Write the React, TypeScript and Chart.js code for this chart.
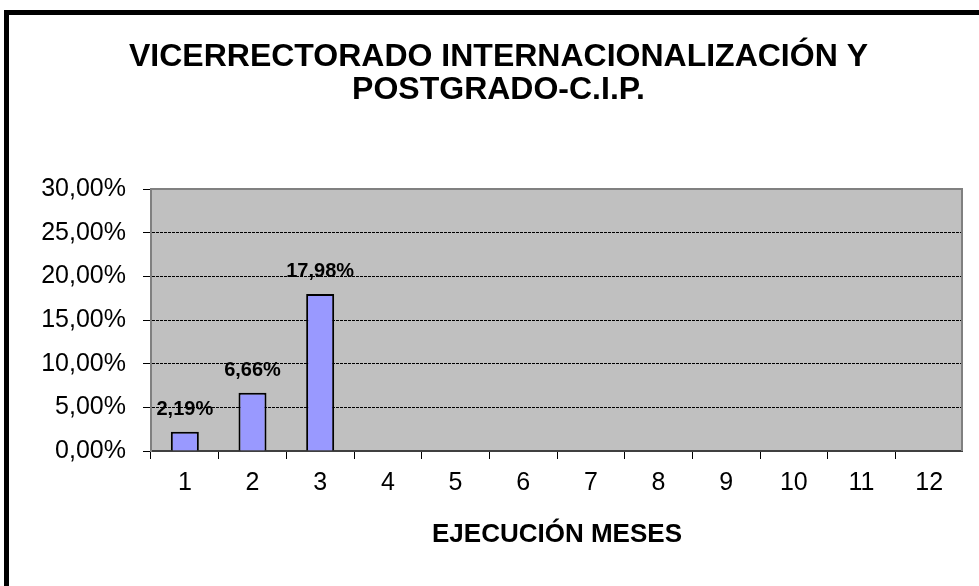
import React, { useEffect, useRef } from "react";
import { Chart, registerables } from "chart.js";

Chart.register(...registerables);

const months = ["1", "2", "3", "4", "5", "6", "7", "8", "9", "10", "11", "12"];
const execution: (number | null)[] = [2.19, 6.66, 17.98, null, null, null, null, null, null, null, null, null];
const yMin = 0;
const yMax = 30;
const yStep = 5;
const titleLines = ["VICERRECTORADO INTERNACIONALIZACIÓN Y", "POSTGRADO-C.I.P."];
const xAxisTitle = "EJECUCIÓN MESES";

const FONT = "'Liberation Sans', Arial, sans-serif";
const fmt = (v: number) => v.toFixed(2).replace(".", ",") + "%";

const area = (chart: any) => {
  const xs = chart.scales.x;
  const ys = chart.scales.y;
  return { left: xs.left, right: xs.right, top: ys.top, bottom: ys.bottom };
};

const plotFrame = {
  id: "plotFrame",
  beforeDatasetsDraw(chart: any) {
    const { ctx } = chart;
    const a = area(chart);
    ctx.save();
    ctx.globalCompositeOperation = "destination-over";
    ctx.fillStyle = "#C0C0C0";
    ctx.fillRect(a.left, a.top, a.right - a.left, a.bottom - a.top);
    ctx.restore();
  },
  afterDatasetsDraw(chart: any) {
    const { ctx } = chart;
    const a = area(chart);
    ctx.save();
    ctx.strokeStyle = "#808080";
    ctx.lineWidth = 2;
    ctx.beginPath();
    ctx.moveTo(a.left, a.top);
    ctx.lineTo(a.right - 1, a.top);
    ctx.lineTo(a.right - 1, a.bottom);
    ctx.stroke();
    const meta = chart.getDatasetMeta(0);
    ctx.fillStyle = "#000";
    ctx.font = `bold 20px ${FONT}`;
    ctx.textAlign = "center";
    ctx.textBaseline = "middle";
    meta.data.forEach((el: any, i: number) => {
      const v = execution[i];
      if (v == null) return;
      ctx.fillText(fmt(v), el.x, el.y - 22);
    });
    ctx.restore();
  },
};

export default function App() {
  const ref = useRef<HTMLCanvasElement | null>(null);

  useEffect(() => {
    if (!ref.current) return;
    const chart = new Chart(ref.current, {
      type: "bar",
      data: {
        labels: months,
        datasets: [
          {
            data: execution as any,
            backgroundColor: "#9999FF",
            borderColor: "#000000",
            borderWidth: 2,
            categoryPercentage: 1,
            barPercentage: 0.414,
          },
        ],
      },
      options: {
        responsive: false,
        maintainAspectRatio: false,
        devicePixelRatio: 1,
        animation: false,
        layout: { padding: { left: 34, right: 0, top: 0, bottom: 0 } },
        plugins: {
          legend: { display: false },
          tooltip: { enabled: false },
          title: {
            display: true,
            text: titleLines,
            color: "#000",
            font: { family: FONT, size: 32, weight: "bold", lineHeight: 33 / 32 },
            padding: { top: 41, bottom: 82 },
          },
        },
        scales: {
          x: {
            offset: true,
            afterFit: (s: any) => {
              s.height = 135;
            },
            grid: {
              offset: true,
              drawOnChartArea: false,
              drawTicks: true,
              tickLength: 8,
              tickColor: "#000",
              tickWidth: 1,
            },
            border: { display: true, color: "#404040", width: 2 },
            ticks: {
              color: "#000",
              font: { family: FONT, size: 25 },
              padding: 9,
              maxRotation: 0,
              autoSkip: false,
            },
            title: {
              display: true,
              text: xAxisTitle,
              color: "#000",
              font: { family: FONT, size: 26, weight: "bold", lineHeight: 1.2 },
              padding: { top: 0, bottom: 36 },
            },
          },
          y: {
            min: yMin,
            max: yMax,
            afterFit: (s: any) => {
              s.width = 117;
            },
            grid: {
              color: (c: any) =>
                c.tick && (c.tick.value === yMin || c.tick.value === yMax) ? "rgba(0,0,0,0)" : "#000",
              lineWidth: 1,
              drawTicks: true,
              tickLength: 8,
              tickColor: "#000",
              tickWidth: 1,
              tickBorderDash: [],
            },
            border: { display: true, color: "#808080", width: 2, dash: [3, 1] },
            ticks: {
              stepSize: yStep,
              color: "#000",
              font: { family: FONT, size: 25 },
              padding: 17,
              callback: (v: any) => fmt(Number(v)),
            },
          },
        },
      },
      plugins: [plotFrame],
    });
    return () => chart.destroy();
  }, []);

  return (
    <div
      style={{
        position: "absolute",
        left: 0,
        top: 0,
        width: 979,
        height: 586,
        overflow: "hidden",
        background: "#fff",
      }}
    >
      <div
        style={{
          position: "absolute",
          left: 4,
          top: 10,
          width: 1100,
          height: 700,
          borderTop: "5px solid #000",
          borderLeft: "5px solid #000",
          boxSizing: "border-box",
        }}
      />
      <canvas
        ref={ref}
        width={963}
        height={586}
        style={{ position: "absolute", left: 0, top: 0, width: 963, height: 586 }}
      />
    </div>
  );
}
